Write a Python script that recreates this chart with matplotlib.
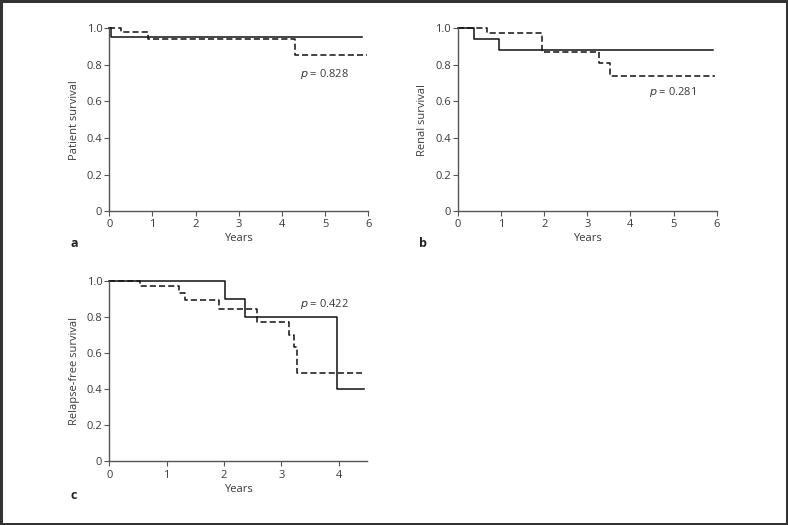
import matplotlib
matplotlib.use("Agg")
import matplotlib.pyplot as plt

plt.rcParams["font.family"] = ["Open Sans", "DejaVu Sans"]
plt.rcParams["font.size"] = 8

# panel a - patient survival
a_solid_t = [0, 0.03, 5.85]
a_solid_s = [1.0, 0.951, 0.951]
a_dash_t = [0, 0.28, 0.89, 4.30, 5.96]
a_dash_s = [1.0, 0.978, 0.940, 0.852, 0.852]

# panel b - renal survival
b_solid_t = [0, 0.36, 0.95, 5.92]
b_solid_s = [1.0, 0.942, 0.881, 0.881]
b_dash_t = [0, 0.665, 1.96, 3.28, 3.53, 5.96]
b_dash_s = [1.0, 0.974, 0.872, 0.812, 0.737, 0.737]

# panel c - relapse-free survival
c_solid_t = [0, 2.02, 2.36, 3.98, 4.44]
c_solid_s = [1.0, 0.90, 0.80, 0.40, 0.40]
c_dash_t = [0, 0.54, 1.21, 1.32, 1.92, 2.57, 3.13, 3.23, 3.27, 4.41]
c_dash_s = [1.0, 0.972, 0.932, 0.892, 0.842, 0.773, 0.70, 0.63, 0.49, 0.49]

yticks = [0, 0.2, 0.4, 0.6, 0.8, 1.0]
ytick_labels = ["0", "0.2", "0.4", "0.6", "0.8", "1.0"]

fig = plt.figure(figsize=(7.88, 5.25), dpi=100)
fig.patch.set_edgecolor("#333333")
fig.patch.set_linewidth(2.5)

ink = "#3a3a3a"


def km_panel(rect, t1, s1, t2, s2, xmax, xticks, ylabel, ptext, ppos, letter, lpos):
    ax = fig.add_axes(rect)
    ax.plot(t1, s1, drawstyle="steps-post", color="#111111", lw=1.1, clip_on=False)
    ax.plot(t2, s2, drawstyle="steps-post", color="#111111", lw=1.1,
            dashes=(4, 2), clip_on=False)
    ax.set_xlim(0, xmax)
    ax.set_ylim(0, 1.0)
    ax.set_xticks(xticks)
    ax.set_yticks(yticks)
    ax.set_yticklabels(ytick_labels)
    for s in ["top", "right"]:
        ax.spines[s].set_visible(False)
    for s in ["left", "bottom"]:
        ax.spines[s].set_color("#555555")
        ax.spines[s].set_linewidth(1.0)
    ax.tick_params(direction="out", length=3.5, width=0.8, colors="#555555",
                   labelcolor=ink)
    ax.tick_params(axis="x", pad=2.5)
    ax.tick_params(axis="y", pad=1.5)
    ax.set_xlabel("Years", color=ink, labelpad=2)
    ax.set_ylabel(ylabel, color=ink)
    ax.yaxis.set_label_coords(-0.115, 0.5)
    ax.text(ppos[0], ppos[1], ptext, color=ink, fontsize=8)
    fig.text(lpos[0], lpos[1], letter, fontsize=9, fontweight="bold", color="#222222")
    return ax


km_panel([0.1387, 0.598, 0.3287, 0.348], a_solid_t, a_solid_s, a_dash_t, a_dash_s,
         6, range(7), "Patient survival", "$p$ = 0.828", (4.42, 0.735), "a", (0.0890, 0.530))
km_panel([0.5812, 0.598, 0.3283, 0.348], b_solid_t, b_solid_s, b_dash_t, b_dash_s,
         6, range(7), "Renal survival", "$p$ = 0.281", (4.42, 0.635), "b", (0.5320, 0.530))
km_panel([0.1387, 0.121, 0.3274, 0.3447], c_solid_t, c_solid_s, c_dash_t, c_dash_s,
         4.5, range(5), "Relapse-free survival", "$p$ = 0.422", (3.33, 0.855), "c", (0.0890, 0.050))

fig.savefig("out.png", dpi=100, edgecolor=fig.get_edgecolor())
